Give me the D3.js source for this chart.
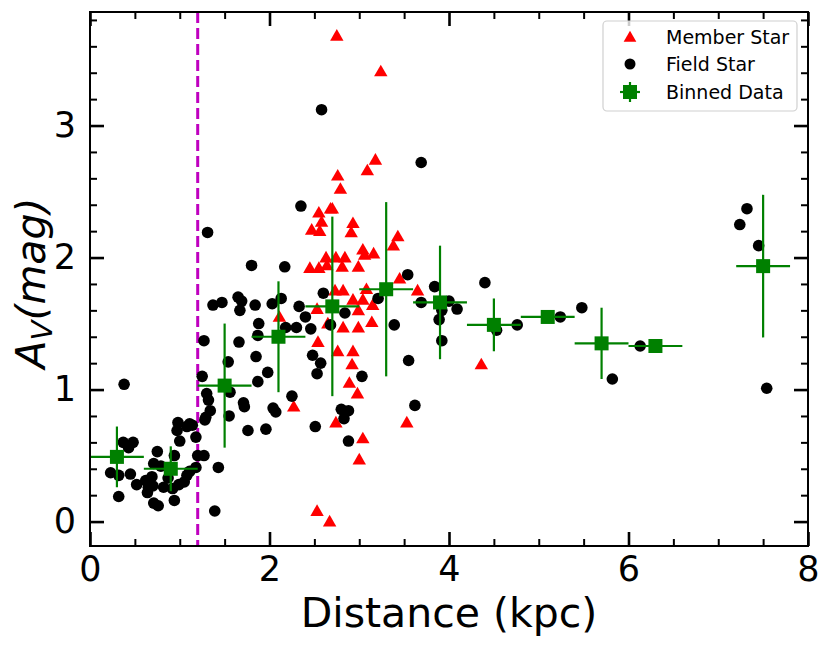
<!DOCTYPE html>
<html>
<head>
<meta charset="utf-8">
<script src="https://cdn.jsdelivr.net/npm/d3@7"></script>
<style>
  body { margin: 0; background: #fff; }
  text { font-family: "DejaVu Sans", sans-serif; }
</style>
</head>
<body>
<svg id="chart" width="831" height="647"></svg>
<script>
// member stars (red triangles)
var memberDist = [2.75, 3.24, 3.18, 3.09, 2.76, 2.79, 2.68, 2.70, 2.55, 2.58, 2.47, 2.56, 2.93, 2.91, 3.43, 3.38, 3.04, 3.06, 3.16, 2.63,
  2.74, 2.84, 2.45, 2.55, 2.81, 2.99, 2.64, 2.73, 2.82, 3.08, 2.93, 3.04, 3.15, 2.53, 2.99, 3.14, 2.11, 2.65, 2.82, 2.99,
  2.54, 2.76, 2.93, 2.92, 2.89, 2.98, 2.27, 2.74, 3.04, 3.00, 3.53, 2.53, 2.67, 3.45, 3.65, 4.36];
var memberAv = [3.68, 3.41, 2.74, 2.66, 2.62, 2.52, 2.37, 2.37, 2.34, 2.27, 2.21, 2.20, 2.26, 2.19, 2.16, 2.09, 2.06, 2.02, 2.03, 2.00,
  2.00, 2.00, 1.92, 1.92, 1.93, 1.93, 1.94, 1.75, 1.75, 1.76, 1.68, 1.68, 1.64, 1.61, 1.60, 1.51, 1.55, 1.50, 1.47, 1.47,
  1.36, 1.29, 1.29, 1.19, 1.05, 0.97, 0.87, 0.75, 0.63, 0.47, 0.75, 0.08, 0.00, 1.84, 1.75, 1.19];

// field stars (black circles)
var fieldDist = [0.38, 0.37, 0.48, 0.43, 0.23, 0.32, 0.45, 0.32, 0.52, 0.75, 0.71, 0.79, 0.62, 0.69, 0.65, 0.64, 0.70, 0.82, 0.87, 0.71,
  0.76, 0.94, 0.94, 0.98, 1.08, 1.14, 0.97, 1.00, 0.92, 0.99, 1.05, 1.08, 1.11, 1.18, 1.18, 1.20, 1.27, 1.43, 1.39, 1.25,
  1.30, 1.32, 1.34, 1.29, 1.28, 1.54, 1.56, 1.55, 1.85, 1.98, 1.87, 1.71, 1.72, 1.76, 1.96, 2.04, 2.07,
  2.35, 1.31, 1.80, 2.17, 1.37, 1.47, 1.65, 1.69, 1.67, 1.84, 2.03, 2.13, 2.33, 2.60, 2.40, 2.84, 1.88, 1.87, 2.18, 2.30,
  2.46, 2.68, 1.27, 1.66, 2.48, 2.57, 2.53, 3.03, 2.25, 2.51, 2.80, 2.88, 2.83, 2.88, 1.11, 3.21,
  3.54, 3.39, 3.55, 3.62, 3.84, 3.69, 4.00, 4.09, 3.92, 3.89, 3.92, 3.69, 4.40, 4.53, 4.76, 5.24, 5.48, 6.13, 5.82, 7.32,
  7.24, 7.45, 7.54, 2.58];
var fieldAv = [1.04, 0.60, 0.60, 0.56, 0.37, 0.35, 0.36, 0.19, 0.28, 0.53, 0.44, 0.42, 0.31, 0.34, 0.26, 0.22, 0.27, 0.26, 0.33, 0.14,
  0.12, 0.16, 0.50, 0.75, 0.72, 0.73, 0.69, 0.61, 0.25, 0.28, 0.30, 0.35, 0.38, 0.41, 0.64, 0.50, 0.50, 0.41, 0.08, 1.10,
  0.97, 0.92, 0.84, 0.79, 0.77, 1.21, 0.98, 0.80, 1.25, 1.13, 1.06, 0.90, 0.87, 0.69, 0.70, 0.86, 0.83,
  2.39, 2.19, 1.94, 1.93, 1.64, 1.66, 1.70, 1.67, 1.60, 1.64, 1.65, 1.69, 1.63, 1.73, 1.55, 1.58, 1.50, 1.41, 1.47, 1.47,
  1.46, 1.49, 1.37, 1.36, 1.26, 1.20, 1.12, 1.10, 0.95, 0.72, 0.85, 0.84, 0.78, 0.61, 0.74, 1.69,
  1.87, 1.49, 1.22, 0.88, 1.78, 1.66, 1.67, 1.61, 1.60, 1.53, 1.37, 2.72, 1.81, 1.45, 1.49, 1.55, 1.62, 1.33, 1.08, 2.37,
  2.25, 2.09, 1.01, 3.12];

// binned data (green squares with error bars)
var binDist = [0.3, 0.9, 1.5, 2.1, 2.7, 3.3, 3.9, 4.5, 5.1, 5.7, 6.3, 7.5];
var binAv = [0.49, 0.40, 1.03, 1.40, 1.63, 1.76, 1.66, 1.49, 1.55, 1.35, 1.33, 1.935];
var binDistErr = [0.3, 0.3, 0.3, 0.3, 0.3, 0.3, 0.3, 0.3, 0.3, 0.3, 0.3, 0.3];
var binAvErr = [0.23, 0.17, 0.47, 0.42, 0.68, 0.66, 0.43, 0.20, 0.03, 0.27, 0.03, 0.54];

var xMajor = [0, 2, 4, 6, 8];
var yMajor = [0, 1, 2, 3];
var cutDist = 1.2;

var svg = d3.select("#chart");

var x = d3.scaleLinear().domain([0, 8]).range([90, 808]);
var y = d3.scaleLinear().domain([-0.185, 3.86]).range([546, 12]);

var green = "#008000";

// vertical cut line
svg.append("line")
  .attr("x1", x(cutDist)).attr("x2", x(cutDist))
  .attr("y1", y.range()[1]).attr("y2", y.range()[0])
  .attr("stroke", "#bf00bf")
  .attr("stroke-width", 3)
  .attr("stroke-dasharray", "11,5");

var plot = svg.append("g");

// members
var tri = d3.symbol().type(d3.symbolTriangle).size(78);
plot.selectAll(".member")
  .data(memberDist)
  .enter().append("path")
    .attr("class", "member")
    .attr("d", tri)
    .attr("transform", (d, i) => "translate(" + x(d) + "," + (y(memberAv[i]) + 1) + ")")
    .attr("fill", "red");

// field stars
plot.selectAll(".field")
  .data(fieldDist)
  .enter().append("circle")
    .attr("class", "field")
    .attr("cx", (d) => x(d))
    .attr("cy", (d, i) => y(fieldAv[i]))
    .attr("r", 5.8)
    .attr("fill", "black");

// binned with error bars
var bins = plot.selectAll(".bin")
  .data(binDist)
  .enter().append("g")
    .attr("class", "bin");

bins.append("line")
  .attr("x1", (d, i) => x(d - binDistErr[i]))
  .attr("x2", (d, i) => x(d + binDistErr[i]))
  .attr("y1", (d, i) => y(binAv[i]))
  .attr("y2", (d, i) => y(binAv[i]))
  .attr("stroke", green).attr("stroke-width", 2.2);

bins.append("line")
  .attr("x1", (d) => x(d))
  .attr("x2", (d) => x(d))
  .attr("y1", (d, i) => y(binAv[i] - binAvErr[i]))
  .attr("y2", (d, i) => y(binAv[i] + binAvErr[i]))
  .attr("stroke", green).attr("stroke-width", 2.2);

bins.append("rect")
  .attr("x", (d) => x(d) - 7)
  .attr("y", (d, i) => y(binAv[i]) - 7)
  .attr("width", 14).attr("height", 14)
  .attr("fill", green);

// axes, ticks inward on all four sides
var xMinor = d3.range(0, 8.01, 0.5).filter((v) => v % 2 != 0);
var yMinor = d3.range(0, 3.81, 0.2).filter((v) => Math.abs(v - Math.round(v)) > 0.01);

function styleAxis(g, width) {
  g.select(".domain").remove();
  g.selectAll(".tick line").attr("stroke", "black").attr("stroke-width", width);
}

svg.append("g")
  .attr("transform", "translate(0," + y.range()[0] + ")")
  .call(d3.axisBottom(x).tickValues(xMajor).tickSize(-14).tickPadding(10).tickFormat(d3.format("d")))
  .call((g) => styleAxis(g, 2.6))
  .selectAll("text")
    .attr("font-size", 35).attr("font-family", "DejaVu Sans").attr("fill", "black");

svg.append("g")
  .attr("transform", "translate(0," + y.range()[0] + ")")
  .call(d3.axisBottom(x).tickValues(xMinor).tickSize(-7).tickFormat(""))
  .call((g) => styleAxis(g, 2));

svg.append("g")
  .attr("transform", "translate(0," + y.range()[1] + ")")
  .call(d3.axisTop(x).tickValues(xMajor).tickSize(-14).tickFormat(""))
  .call((g) => styleAxis(g, 2.6));

svg.append("g")
  .attr("transform", "translate(0," + y.range()[1] + ")")
  .call(d3.axisTop(x).tickValues(xMinor).tickSize(-7).tickFormat(""))
  .call((g) => styleAxis(g, 2));

svg.append("g")
  .attr("transform", "translate(" + x.range()[0] + ",0)")
  .call(d3.axisLeft(y).tickValues(yMajor).tickSize(-14).tickPadding(14).tickFormat(d3.format("d")))
  .call((g) => styleAxis(g, 2.6))
  .selectAll("text")
    .attr("font-size", 35).attr("font-family", "DejaVu Sans").attr("fill", "black");

svg.append("g")
  .attr("transform", "translate(" + x.range()[0] + ",0)")
  .call(d3.axisLeft(y).tickValues(yMinor).tickSize(-7).tickFormat(""))
  .call((g) => styleAxis(g, 2));

svg.append("g")
  .attr("transform", "translate(" + x.range()[1] + ",0)")
  .call(d3.axisRight(y).tickValues(yMajor).tickSize(-14).tickFormat(""))
  .call((g) => styleAxis(g, 2.6));

svg.append("g")
  .attr("transform", "translate(" + x.range()[1] + ",0)")
  .call(d3.axisRight(y).tickValues(yMinor).tickSize(-7).tickFormat(""))
  .call((g) => styleAxis(g, 2));

// frame
svg.append("rect")
  .attr("x", x.range()[0]).attr("y", y.range()[1])
  .attr("width", x.range()[1] - x.range()[0])
  .attr("height", y.range()[0] - y.range()[1])
  .attr("fill", "none").attr("stroke", "black").attr("stroke-width", 2);

// axis labels
svg.append("text")
  .attr("x", 449).attr("y", 627)
  .attr("text-anchor", "middle")
  .attr("font-size", 41)
  .text("Distance (kpc)");

var ylab = svg.append("text")
  .attr("transform", "translate(45,283) rotate(-90)")
  .attr("text-anchor", "middle")
  .attr("font-size", 41)
  .attr("font-style", "italic");
ylab.append("tspan").text("A");
ylab.append("tspan").attr("font-size", 29).attr("dy", 7).text("V");
ylab.append("tspan").attr("dy", -7).text("(mag)");

// legend
var legend = svg.append("g");
legend.append("rect")
  .attr("x", 603).attr("y", 21)
  .attr("width", 194).attr("height", 90)
  .attr("rx", 4)
  .attr("fill", "white").attr("fill-opacity", 0.8)
  .attr("stroke", "#d0d0d0").attr("stroke-width", 1.2);

var legendNames = ["Member Star", "Field Star", "Binned Data"];
var legendY = [37, 64, 92];

legend.append("path")
  .attr("d", d3.symbol().type(d3.symbolTriangle).size(70))
  .attr("transform", "translate(630," + (legendY[0] + 1) + ")")
  .attr("fill", "red");
legend.append("circle")
  .attr("cx", 630).attr("cy", legendY[1]).attr("r", 5.5)
  .attr("fill", "black");
var lb = legend.append("g").attr("transform", "translate(630," + legendY[2] + ")");
lb.append("line").attr("x1", -10).attr("x2", 10).attr("stroke", green).attr("stroke-width", 2.2);
lb.append("line").attr("y1", -10).attr("y2", 10).attr("stroke", green).attr("stroke-width", 2.2);
lb.append("rect").attr("x", -7).attr("y", -7).attr("width", 14).attr("height", 14).attr("fill", green);

legend.selectAll(".lt")
  .data(legendNames)
  .enter().append("text")
    .attr("class", "lt")
    .attr("x", 666)
    .attr("y", (d, i) => legendY[i] + 7)
    .attr("font-size", 19)
    .text((d) => d);
</script>
</body>
</html>
